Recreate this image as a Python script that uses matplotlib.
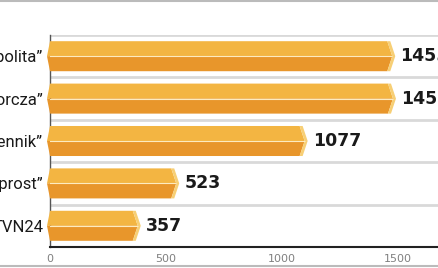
import matplotlib
matplotlib.use("Agg")
import matplotlib.pyplot as plt
from matplotlib.patches import Polygon
from matplotlib.lines import Line2D

labels = ["\u201eRzeczpospolita\u201d", "\u201eGazeta Wyborcza\u201d", "\u201eDziennik\u201d",
          "\u201eWprost\u201d", "TVN24"]
values = [1455, 1458, 1077, 523, 357]
xticks = [0, 500, 1000, 1500]

W, H = 439, 268
fig = plt.figure(figsize=(W / 100, H / 100), dpi=100)
ax = fig.add_axes([50 / W, 21 / H, 389 / W, 212 / H])

px = 500 / 115.9          # data units per pixel in x
xmax = 389 * px
ax.set_xlim(0, xmax)
ax.set_ylim(len(values), 0)

hh = 0.354                # half bar height (data units)
tip = 3 * px              # left point
cap = 3 * px              # right cap width
notch = 5 * px

light = "#F3B542"
dark = "#E8962B"
capc = "#F7CF75"

for i, v in enumerate(values):
    c = i + 0.5
    top, mid, bot = c - hh, c, c + hh
    ax.add_patch(Polygon([(0, top), (v, top), (v + notch, mid), (-tip, mid)],
                         closed=True, fc=light, ec="none", clip_on=False, zorder=3))
    ax.add_patch(Polygon([(-tip, mid), (v + notch, mid), (v, bot), (0, bot)],
                         closed=True, fc=dark, ec="none", clip_on=False, zorder=3))
    ax.add_patch(Polygon([(v, top), (v + cap, top), (v + cap + notch, mid),
                          (v + cap, bot), (v, bot), (v + notch, mid)],
                         closed=True, fc=capc, ec="none", clip_on=False, zorder=3))
    ax.plot([-tip, v + notch], [mid, mid], color="#FDEBC0", lw=0.8, zorder=4,
            solid_capstyle="butt")
    ax.text(v + 13 * px, c, str(v), ha="left", va="center", fontsize=12.5,
            fontweight="bold", color="#1a1a1a", clip_on=False)

for y in range(len(values)):
    ax.axhline(y, color="#D9D9D9", lw=2, zorder=1)

ax.set_yticks([i + 0.5 for i in range(len(values))])
ax.set_yticklabels(labels, fontsize=12, color="#1a1a1a", family=["Roboto", "DejaVu Sans"])
ax.tick_params(axis="y", length=0, pad=5)
ax.set_xticks(xticks)
ax.set_xticklabels([str(t) for t in xticks], fontsize=8, color="#808080")
ax.tick_params(axis="x", length=0, pad=5)

for s in ["top", "right"]:
    ax.spines[s].set_visible(False)
ax.spines["left"].set_color("#555555")
ax.spines["left"].set_linewidth(1)
ax.spines["bottom"].set_color("#222222")
ax.spines["bottom"].set_linewidth(1.5)

fig.add_artist(Line2D([0, 1], [1 - 1 / H, 1 - 1 / H], color="#BBBBBB", lw=1.5))
fig.add_artist(Line2D([0, 1], [2 / H, 2 / H], color="#BBBBBB", lw=1.5))

fig.savefig("out.png", dpi=100)
